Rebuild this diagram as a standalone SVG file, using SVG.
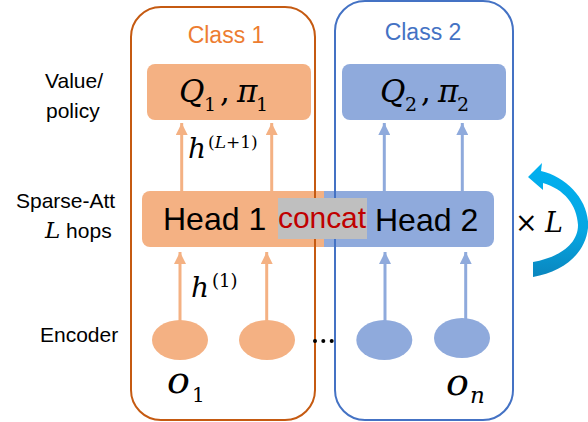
<svg xmlns="http://www.w3.org/2000/svg" width="588" height="422" viewBox="0 0 588 422">
<style>
.lbl{font-family:"Liberation Sans",Arial,sans-serif;font-size:21px;fill:#000}
.cls{font-family:"Liberation Sans",Arial,sans-serif;font-size:23px}
.head{font-family:"Liberation Sans",Arial,sans-serif;font-size:32px;fill:#000}
.math{font-family:"DejaVu Serif","Liberation Serif",serif;font-style:italic;fill:#000}
.up{font-style:normal}
.oarr{stroke:#F4B183;stroke-width:3;fill:none;marker-end:url(#ah-o)}
.barr{stroke:#8FAADC;stroke-width:3;fill:none;marker-end:url(#ah-b)}
</style>
<defs>
<marker id="ah-o" markerUnits="userSpaceOnUse" markerWidth="12" markerHeight="12" refX="12" refY="6" orient="auto"><path d="M0,0 L12,6 L0,12 z" fill="#F4B183"/></marker>
<marker id="ah-b" markerUnits="userSpaceOnUse" markerWidth="12" markerHeight="12" refX="12" refY="6" orient="auto"><path d="M0,0 L12,6 L0,12 z" fill="#8FAADC"/></marker>
<linearGradient id="cyc" x1="0" y1="0" x2="0" y2="1"><stop offset="0" stop-color="#00B0F0"/><stop offset="0.6" stop-color="#06A6E2"/><stop offset="1" stop-color="#0A86BE"/></linearGradient>
</defs>
<rect width="588" height="422" fill="#fff"/>

<g id="labels">
<text class="lbl" x="45" y="88">Value/</text>
<text class="lbl" x="46" y="118">policy</text>
<text class="lbl" x="16" y="208">Sparse-Att</text>
<text class="lbl" x="45" y="238"><tspan class="math" font-size="23">L</tspan> hops</text>
<text class="lbl" x="40" y="342">Encoder</text>
</g>

<g id="q1">
<rect x="147" y="64" width="164" height="56" rx="8" fill="#F4B183"/>
<text class="math" font-size="31" x="179" y="102">Q<tspan font-size="19" class="up" x="204" y="111">1</tspan><tspan class="up" x="220" y="102">,</tspan><tspan x="237" y="102">π</tspan><tspan font-size="19" class="up" x="256" y="111">1</tspan></text>
</g>
<g id="q2">
<rect x="342" y="64" width="164" height="56" rx="8" fill="#8FAADC"/>
<text class="math" font-size="31" x="380" y="102">Q<tspan font-size="19" class="up" x="405" y="111">2</tspan><tspan class="up" x="421" y="102">,</tspan><tspan x="438" y="102">π</tspan><tspan font-size="19" class="up" x="457" y="111">2</tspan></text>
</g>

<g id="head1">
<path d="M150,191 H324 V247 H150 A8,8 0 0 1 142,239 V199 A8,8 0 0 1 150,191 Z" fill="#F4B183"/>
</g>
<g id="head2">
<path d="M324,191 H486 A8,8 0 0 1 494,199 V239 A8,8 0 0 1 486,247 H324 Z" fill="#8FAADC"/>
</g>

<g id="class1">
<rect x="131" y="7" width="184" height="413" rx="30" fill="none" stroke="#C55A11" stroke-width="2"/>
<text class="cls" x="226" y="43" text-anchor="middle" fill="#ED7D31">Class 1</text>
</g>
<g id="class2">
<rect x="335" y="1" width="178" height="419" rx="30" fill="none" stroke="#4472C4" stroke-width="2"/>
<text class="cls" x="423" y="40" text-anchor="middle" fill="#4472C4">Class 2</text>
</g>

<g id="concat">
<rect x="278" y="198" width="89" height="41" fill="#BFBFBF"/>
<text x="278" y="228" font-family="Liberation Sans,Arial,sans-serif" font-size="30" fill="#C00000" textLength="88">concat</text>
</g>
<text class="head" x="163" y="230">Head 1</text>
<text class="head" x="375" y="231">Head 2</text>

<g id="connectors">
<line class="oarr" x1="181.7" y1="191" x2="181.7" y2="123"/>
<line class="oarr" x1="271.7" y1="191" x2="271.7" y2="123"/>
<line class="barr" x1="384.3" y1="191" x2="384.3" y2="123"/>
<line class="barr" x1="462.3" y1="191" x2="462.3" y2="123"/>
<line class="oarr" x1="180" y1="322" x2="180" y2="252"/>
<line class="oarr" x1="266.7" y1="322" x2="266.7" y2="252"/>
<line class="barr" x1="385" y1="322" x2="385" y2="252"/>
<line class="barr" x1="465.7" y1="320" x2="465.7" y2="252"/>
</g>

<g id="enc1"><ellipse cx="180" cy="340" rx="28" ry="20" fill="#F4B183"/></g>
<g id="enc2"><ellipse cx="267" cy="340" rx="28" ry="20" fill="#F4B183"/></g>
<g id="enc3"><ellipse cx="384.3" cy="340" rx="28" ry="20" fill="#8FAADC"/></g>
<g id="enc4"><ellipse cx="462" cy="338" rx="28" ry="20" fill="#8FAADC"/></g>

<g id="dots" fill="#000">
<circle cx="315" cy="341" r="2"/><circle cx="323.3" cy="341" r="2"/><circle cx="331.7" cy="341" r="2"/>
</g>

<text class="math" font-size="28" x="188" y="158">h<tspan class="up" font-size="17" x="208" y="148">(</tspan><tspan font-size="17" y="148">L</tspan><tspan class="up" font-size="17" y="148">+1)</tspan></text>
<text class="math" font-size="28" x="191" y="297">h<tspan class="up" font-size="18" x="212" y="287">(1)</tspan></text>

<text class="math" font-size="38" x="167" y="393">o<tspan class="up" font-size="20" x="192" y="402">1</tspan></text>
<text class="math" font-size="38" x="446" y="395">o<tspan font-size="23" x="470" y="403">n</tspan></text>

<g id="loop">
<path d="M541,171 C568,177 590,202 588,228 C585,255 562,272 533,277 L533,262 C556,258 578,246 578,225 C577,205 564,189 543,183 L543,190 L528,177 L542,163 Z" fill="url(#cyc)"/>
<text font-family="DejaVu Serif,Liberation Serif,serif" font-size="27" x="515" y="232">×<tspan font-style="italic" x="545">L</tspan></text>
</g>
</svg>
